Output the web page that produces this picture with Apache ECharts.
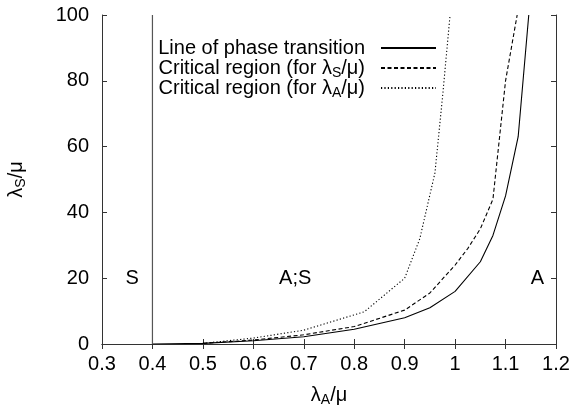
<!DOCTYPE html>
<html style="height: 100%">
<head>
    <meta charset="utf-8">
    <script src="https://cdn.jsdelivr.net/npm/echarts@6/dist/echarts.min.js"></script>
</head>
<body style="height: 100%; margin: 0; background: #fff">
    <div id="container" style="width: 575px; height: 408px"></div>
    <script type="text/javascript">
        // phase transition line
        var transX = [0.4, 0.5, 0.6, 0.7, 0.8, 0.9, 0.95, 1.0, 1.05, 1.075, 1.1, 1.125, 1.146];
        var transY = [0, 0.2, 1, 2.2, 4.5, 8, 11, 16, 25, 33, 45, 63, 100];
        // critical region for lambda_S/mu
        var critSX = [0.5, 0.6, 0.7, 0.8, 0.9, 0.95, 1.0, 1.025, 1.05, 1.075, 1.1, 1.123];
        var critSY = [0.2, 1.2, 2.8, 5.3, 10.3, 15.5, 24, 29, 35, 44, 80, 100];
        // critical region for lambda_A/mu
        var critAX = [0.5, 0.6, 0.7, 0.82, 0.9, 0.93, 0.96, 0.975, 0.99];
        var critAY = [0.2, 1.8, 4.2, 9.8, 20, 32, 52, 75, 100];
        // vertical border of the S region
        var borderX = [0.4, 0.4];
        var borderY = [0, 100];
        // region labels
        var regionLabels = ['S', 'A;S', 'A'];
        var regionX = [0.36, 0.683, 1.163];
        var regionY = [20, 20, 20];

        var seriesNames = [
            'Line of phase transition',
            'Critical region (for λS/μ)',
            'Critical region (for λA/μ)'
        ];

        function pairs(xs, ys) {
            return xs.map(function (x, i) { return [x, ys[i]]; });
        }

        var font = 'Liberation Sans, Arial, sans-serif';
        var rich = {
            n: { fontSize: 20, fontFamily: font, color: '#000' },
            sub: { fontSize: 14, fontFamily: font, color: '#000', padding: [10, 0, 0, 0] }
        };
        function legendFmt(name) {
            if (name === seriesNames[1]) return '{n|Critical region (for λ}{sub|S}{n|/μ)}';
            if (name === seriesNames[2]) return '{n|Critical region (for λ}{sub|A}{n|/μ)}';
            return '{n|' + name + '}';
        }

        var tops = [38, 58, 78];
        var legends = seriesNames.map(function (n, i) {
            return {
                data: [n],
                right: 138,
                top: tops[i],
                padding: 0,
                align: 'right',
                itemWidth: 55,
                itemHeight: 14,
                selectedMode: false,
                formatter: legendFmt,
                itemStyle: { opacity: 0 },
                textStyle: { rich: rich, padding: [0, 11, 0, 0] }
            };
        });

        var axisLine = { show: true, lineStyle: { color: '#333', width: 1 } };
        var tick = { show: true, inside: true, length: 5, lineStyle: { color: '#333' } };

        var dom = document.getElementById('container');
        var myChart = echarts.init(dom);
        var option = {
            animation: false,
            textStyle: { fontFamily: font },
            grid: { left: 102, right: 19, top: 15, bottom: 64, outerBoundsMode: 'none', containLabel: false },
            legend: legends,
            xAxis: [{
                type: 'value', min: 0.3, max: 1.2, interval: 0.1,
                axisLine: axisLine, axisTick: tick, splitLine: { show: false },
                axisLabel: {
                    color: '#000', fontSize: 20, margin: 10, fontFamily: font,
                    formatter: function (v) { return +v.toFixed(1) + ''; }
                },
                name: '{n|λ}{sub|A}{n|/μ}', nameLocation: 'middle', nameGap: 39,
                nameTextStyle: { rich: rich }
            }, {
                type: 'value', position: 'top', min: 0.3, max: 1.2, interval: 0.1,
                axisLine: axisLine, axisTick: tick, axisLabel: { show: false }, splitLine: { show: false }
            }],
            yAxis: [{
                type: 'value', min: 0, max: 100, interval: 20,
                axisLine: axisLine, axisTick: tick, splitLine: { show: false },
                axisLabel: { color: '#000', fontSize: 20, margin: 13, fontFamily: font },
                name: '{n|λ}{sub|S}{n|/μ}', nameLocation: 'middle', nameGap: 74, nameRotate: 90,
                nameTextStyle: { rich: rich }
            }, {
                type: 'value', position: 'right', min: 0, max: 100, interval: 20,
                axisLine: axisLine, axisTick: tick, axisLabel: { show: false }, splitLine: { show: false }
            }],
            series: [{
                name: seriesNames[0], type: 'line', data: pairs(transX, transY),
                symbol: 'none', lineStyle: { color: '#000', width: 1.1, type: 'solid' },
                itemStyle: { color: '#000' }
            }, {
                name: seriesNames[1], type: 'line', data: pairs(critSX, critSY),
                symbol: 'none', lineStyle: { color: '#000', width: 1.1, type: [4, 2.5] },
                itemStyle: { color: '#000' }
            }, {
                name: seriesNames[2], type: 'line', data: pairs(critAX, critAY),
                symbol: 'none', lineStyle: { color: '#000', width: 1.1, type: [1.2, 2.2] },
                itemStyle: { color: '#000' }
            }, {
                name: 'border', type: 'line', data: pairs(borderX, borderY),
                symbol: 'none', lineStyle: { color: '#555', width: 1.2 }
            }, {
                name: 'regions', type: 'scatter', symbolSize: 0,
                itemStyle: { opacity: 1, color: '#000' },
                data: regionX.map(function (x, i) { return [x, regionY[i], regionLabels[i]]; }),
                label: {
                    show: true, position: 'inside', color: '#000', fontSize: 20, fontFamily: font,
                    formatter: function (p) { return p.value[2]; }
                }
            }]
        };
        myChart.setOption(option, true);
    </script>
</body>
</html>
